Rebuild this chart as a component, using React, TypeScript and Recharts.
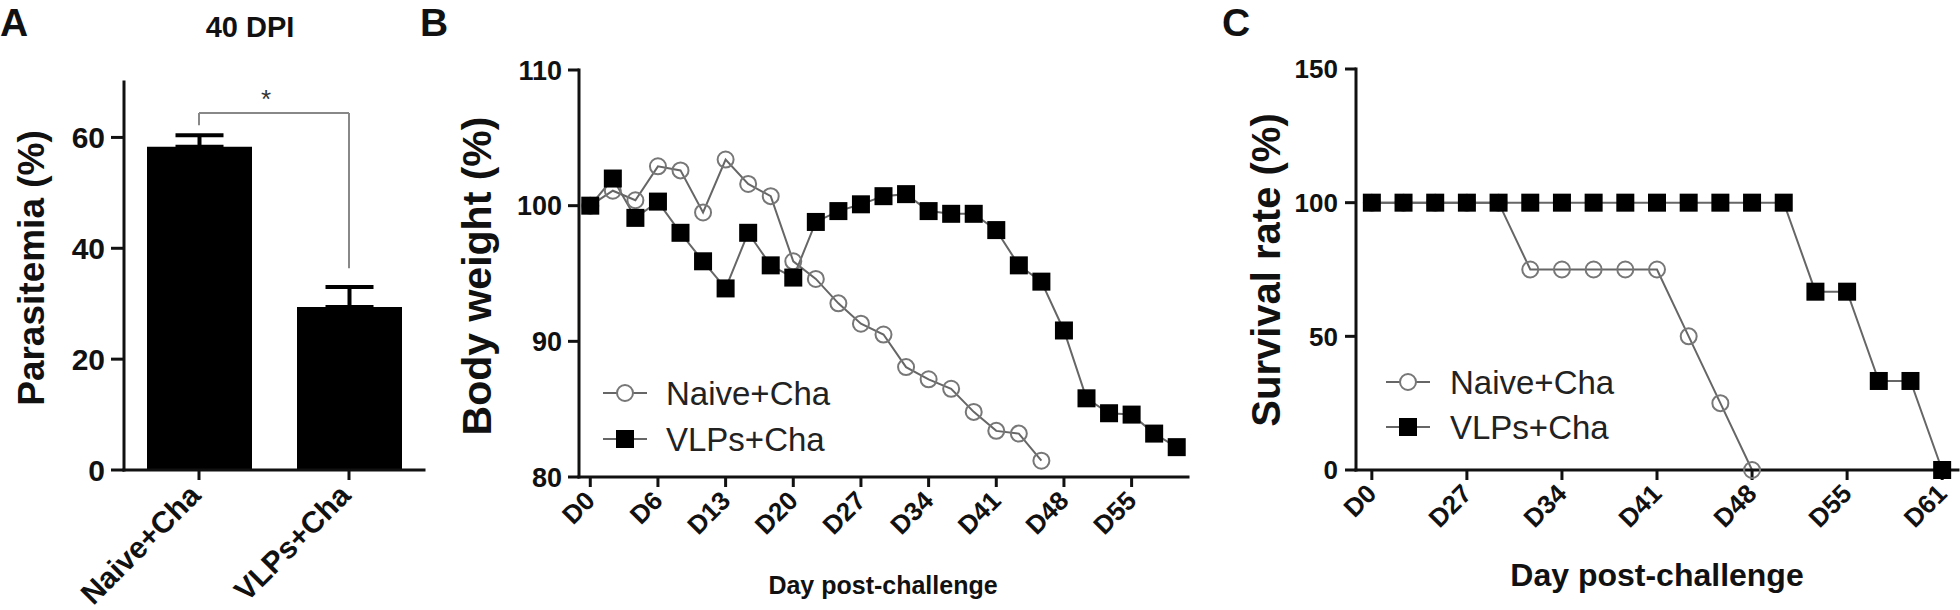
import React from 'react';
import { BarChart, Bar, ErrorBar, LineChart, Line, XAxis, YAxis, ReferenceLine, Legend } from 'recharts';

// panel A
const groups = ['Naive+Cha', 'VLPs+Cha'];
const parasitemia = [58.3, 29.4];
const parasitemiaSem = [2.1, 3.6];
const bracketFoot = [62.2, 36.4];
const bracketTop = 64.4;

// panel B
const weightTicks = ['D0', 'D6', 'D13', 'D20', 'D27', 'D34', 'D41', 'D48', 'D55'];
const naiveWeight = [100, 101.1, 100.4, 102.9, 102.6, 99.5, 103.4, 101.6, 100.7, 95.9, 94.6, 92.8, 91.3, 90.5, 88.1, 87.2, 86.5, 84.8, 83.4, 83.2, 81.2];
const vlpWeight = [100, 102.0, 99.1, 100.3, 98.0, 95.9, 93.9, 98.0, 95.6, 94.7, 98.8, 99.6, 100.1, 100.7, 100.85, 99.6, 99.4, 99.4, 98.2, 95.6, 94.4, 90.8, 85.8, 84.7, 84.6, 83.2, 82.2];

// panel C
const survivalTicks = ['D0', 'D27', 'D34', 'D41', 'D48', 'D55', 'D61'];
const naiveSurvival = [100, 100, 100, 100, 100, 75, 75, 75, 75, 75, 50, 25, 0];
const vlpSurvival = [100, 100, 100, 100, 100, 100, 100, 100, 100, 100, 100, 100, 100, 100, 66.7, 66.7, 33.3, 33.3, 0];

const FONT = '"Liberation Sans", Arial, Helvetica, sans-serif';
const INK = '#111';
const LINE = '#666';

const barRows = groups.map((name, i) => ({ name, value: parasitemia[i], err: [0, parasitemiaSem[i]] }));
const weightRows = vlpWeight.map((v, i) => ({ idx: i, vlp: v, naive: naiveWeight[i] }));
const survivalRows = vlpSurvival.map((v, i) => ({ idx: i, vlp: v, naive: naiveSurvival[i] }));

const axisLine = { stroke: INK, strokeWidth: 3, strokeLinecap: 'square' as const };
const tickLine = { stroke: INK, strokeWidth: 3 };

const rotTick = (fontSize: number, labelOf: (v: any) => string, dx: number, dy: number) => (props: any) => {
  const { x, y, payload } = props;
  return (
    <g transform={`translate(${x + dx},${y + dy})`}>
      <text textAnchor="end" transform="rotate(-45)" dy="0.72em" fontSize={fontSize} fontWeight={700} fontFamily={FONT} fill={INK}>
        {labelOf(payload.value)}
      </text>
    </g>
  );
};

const SquareDot = (props: any) => {
  const { cx, cy, value, index } = props;
  if (cx == null || cy == null || value == null) return <g key={`s${index}`} />;
  return <rect key={`s${index}`} x={cx - 9} y={cy - 9} width={18} height={18} fill="#000" />;
};

const CircleDot = (props: any) => {
  const { cx, cy, value, index } = props;
  if (cx == null || cy == null || value == null) return <g key={`c${index}`} />;
  return <circle key={`c${index}`} cx={cx} cy={cy} r={8} fill="none" stroke="#777" strokeWidth={2} />;
};

const legendContent = (gap: number, textX: number) => (props: any) => {
  const items = props.payload || [];
  return (
    <svg width={320} height={110}>
      {items.map((it: any, i: number) => {
        const cy = 20 + i * gap;
        const square = it.dataKey === 'vlp';
        return (
          <g key={it.value}>
            <line x1={3} x2={47} y1={cy} y2={cy} stroke={LINE} strokeWidth={2} />
            {square ? (
              <rect x={16} y={cy - 9} width={18} height={18} fill="#000" />
            ) : (
              <circle cx={25} cy={cy} r={8} fill="#fff" stroke="#777" strokeWidth={2} />
            )}
            <text x={textX} y={cy} dy="0.36em" fontSize={33} fontFamily={FONT} fill="#222">
              {it.value}
            </text>
          </g>
        );
      })}
    </svg>
  );
};

const yTick = (fontSize: number) => ({ fontSize, fontWeight: 700, fill: INK, fontFamily: FONT });

export default function App() {
  return (
    <div style={{ position: 'absolute', left: 0, top: 0, width: 1960, height: 610, background: '#fff' }}>
      <div style={{ position: 'absolute', left: 0, top: 0 }}>
        <BarChart width={440} height={610} data={barRows} margin={{ top: 82, right: 16, bottom: 0, left: 0 }} barSize={105}>
          <XAxis dataKey="name" height={140} interval={0} axisLine={axisLine} tickLine={tickLine} tickSize={10} tickMargin={2}
            tick={rotTick(30, (v) => v, -12, 0)} />
          <YAxis width={124} domain={[0, 70]} ticks={[0, 20, 40, 60]} axisLine={axisLine} tickLine={tickLine} tickSize={13} tickMargin={6}
            tick={yTick(30)} />
          <Bar dataKey="value" fill="#000" isAnimationActive={false}>
            <ErrorBar dataKey="err" width={24} stroke="#000" strokeWidth={4} direction="y" />
          </Bar>
          <ReferenceLine segment={[{ x: groups[0], y: bracketFoot[0] }, { x: groups[0], y: bracketTop }]} stroke="#888" strokeWidth={2} />
          <ReferenceLine segment={[{ x: groups[0], y: bracketTop }, { x: groups[1], y: bracketTop }]} stroke="#888" strokeWidth={2}
            label={{ value: '*', position: 'top', fontSize: 26, fill: '#333', fontFamily: FONT, dx: -8 }} />
          <ReferenceLine segment={[{ x: groups[1], y: bracketTop }, { x: groups[1], y: bracketFoot[1] }]} stroke="#888" strokeWidth={2} />
        </BarChart>
      </div>

      <div style={{ position: 'absolute', left: 440, top: 0 }}>
        <LineChart width={760} height={610} data={weightRows} margin={{ top: 70, right: 12, bottom: 0, left: 0 }}>
          <XAxis type="number" dataKey="idx" domain={[-0.5, 26.5]} ticks={weightTicks.map((_, i) => i * 3)} height={133}
            axisLine={axisLine} tickLine={tickLine} tickSize={10} tickMargin={2}
            tick={rotTick(26, (v) => weightTicks[v / 3], -7, 0)} />
          <YAxis width={139} domain={[80, 110]} ticks={[80, 90, 100, 110]} axisLine={axisLine} tickLine={tickLine} tickSize={11} tickMargin={6}
            tick={yTick(27)} />
          <Line dataKey="naive" name="Naive+Cha" stroke={LINE} strokeWidth={2} dot={CircleDot} activeDot={false} isAnimationActive={false} />
          <Line dataKey="vlp" name="VLPs+Cha" stroke={LINE} strokeWidth={2} dot={SquareDot} activeDot={false} isAnimationActive={false} />
          <Legend layout="horizontal" verticalAlign="middle" align="center" wrapperStyle={{ left: 160, top: 373, width: 320, height: 110 }}
            content={legendContent(46, 66)} />
        </LineChart>
      </div>

      <div style={{ position: 'absolute', left: 1220, top: 0 }}>
        <LineChart width={740} height={610} data={survivalRows} margin={{ top: 69, right: 2, bottom: 0, left: 0 }}>
          <XAxis type="number" dataKey="idx" domain={[-0.5, 18.5]} ticks={survivalTicks.map((_, i) => i * 3)} height={140}
            axisLine={axisLine} tickLine={tickLine} tickSize={10} tickMargin={2}
            tick={rotTick(26, (v) => survivalTicks[v / 3], -7, 0)} />
          <YAxis width={136} domain={[0, 150]} ticks={[0, 50, 100, 150]} axisLine={axisLine} tickLine={tickLine} tickSize={11} tickMargin={7}
            tick={yTick(26)} />
          <Line dataKey="naive" name="Naive+Cha" stroke={LINE} strokeWidth={2} dot={CircleDot} activeDot={false} isAnimationActive={false} />
          <Line dataKey="vlp" name="VLPs+Cha" stroke={LINE} strokeWidth={2} dot={SquareDot} activeDot={false} isAnimationActive={false} />
          <Legend layout="horizontal" verticalAlign="middle" align="center" wrapperStyle={{ left: 163, top: 362, width: 320, height: 110 }}
            content={legendContent(45, 67)} />
        </LineChart>
      </div>

      <svg width={1960} height={610} style={{ position: 'absolute', left: 0, top: 0, pointerEvents: 'none' }}>
        <g fontFamily={FONT} fill={INK} fontWeight={700}>
          <text x={0} y={36} fontSize={39}>A</text>
          <text x={420} y={36} fontSize={39}>B</text>
          <text x={1222} y={36} fontSize={39}>C</text>
          <text x={250} y={37} fontSize={29} textAnchor="middle">40 DPI</text>
          <text transform="translate(31,268) rotate(-90)" textAnchor="middle" dy="0.35em" fontSize={37}>Parasitemia (%)</text>
          <text transform="translate(477,276) rotate(-90)" textAnchor="middle" dy="0.35em" fontSize={41}>Body weight (%)</text>
          <text transform="translate(1266,270) rotate(-90)" textAnchor="middle" dy="0.35em" fontSize={40}>Survival rate (%)</text>
          <text x={883} y={585} textAnchor="middle" dy="0.35em" fontSize={25}>Day post-challenge</text>
          <text x={1657} y={575} textAnchor="middle" dy="0.35em" fontSize={32}>Day post-challenge</text>
        </g>
      </svg>
    </div>
  );
}
